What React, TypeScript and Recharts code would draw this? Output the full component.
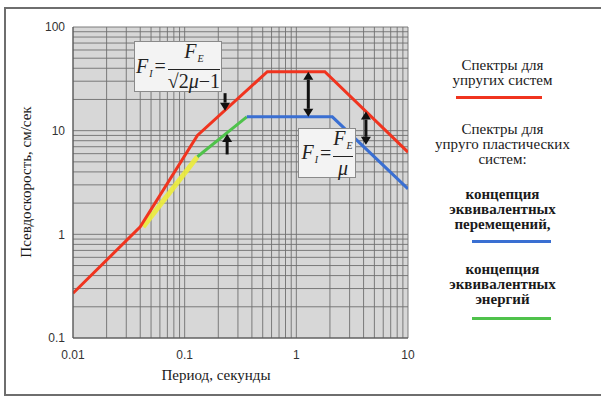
import { LineChart, Line, XAxis, YAxis, CartesianGrid, ReferenceLine, Legend } from 'recharts';

// спектр для упругих систем
const elasticSpectrum = [
  { period: 0.01, velocity: 0.27 },
  { period: 0.04, velocity: 1.18 },
  { period: 0.13, velocity: 9 },
  { period: 0.55, velocity: 37 },
  { period: 1.8, velocity: 37 },
  { period: 10, velocity: 6.2 },
];

// концепция эквивалентных перемещений
const displacementSpectrum = [
  { period: 0.36, velocity: 13.6 },
  { period: 2.1, velocity: 13.6 },
  { period: 10, velocity: 2.75 },
];

// концепция эквивалентных энергий
const energySpectrum = [
  { period: 0.13, velocity: 5.6 },
  { period: 0.36, velocity: 13.6 },
];

const transitionSegment = [
  { period: 0.0425, velocity: 1.18 },
  { period: 0.13, velocity: 5.6 },
];

const arrows = [
  { period: 0.23, from: 23, to: 15.6, both: false },
  { period: 0.24, from: 5.9, to: 9.3, both: false },
  { period: 1.28, from: 37, to: 13.6, both: true },
  { period: 4.2, from: 15.3, to: 7.3, both: true },
];

const periodTicks = [
  0.01, 0.02, 0.03, 0.04, 0.05, 0.06, 0.07, 0.08, 0.09,
  0.1, 0.2, 0.3, 0.4, 0.5, 0.6, 0.7, 0.8, 0.9,
  1, 2, 3, 4, 5, 6, 7, 8, 9, 10,
];
const velocityTicks = [
  0.1, 0.2, 0.3, 0.4, 0.5, 0.6, 0.7, 0.8, 0.9,
  1, 2, 3, 4, 5, 6, 7, 8, 9,
  10, 20, 30, 40, 50, 60, 70, 80, 90, 100,
];
const periodLabels = [0.01, 0.1, 1, 10];
const velocityLabels = [0.1, 1, 10, 100];

const xTitle = 'Период, секунды';
const yTitle = 'Псевдоскорость, см/сек';

const RED = '#f0341f';
const BLUE = '#3a6fd2';
const GREEN = '#4fc24b';
const YELLOW = '#ecec3a';

const serif = '"Liberation Serif", "Times New Roman", serif';
const sans = '"Liberation Sans", Arial, sans-serif';

const arrowShape = (both: boolean) => (p: any) => {
  const { x1, y1, x2, y2 } = p;
  const dir = Math.sign(y2 - y1) || 1;
  const L = 8;
  const W = 5;
  const startY = both ? y1 + dir * L : y1;
  return (
    <g>
      <line x1={x1} y1={startY} x2={x2} y2={y2 - dir * L} stroke="#111" strokeWidth={3} />
      <polygon points={`${x2},${y2} ${x2 - W},${y2 - dir * L} ${x2 + W},${y2 - dir * L}`} fill="#111" />
      {both && (
        <polygon points={`${x1},${y1} ${x1 - W},${y1 + dir * L} ${x1 + W},${y1 + dir * L}`} fill="#111" />
      )}
    </g>
  );
};

const Sub = ({ children }: { children: string }) => (
  <span style={{ fontSize: 10, verticalAlign: -4, marginLeft: 1 }}>{children}</span>
);

const Formula = ({ denom, sqrt }: { denom: string; sqrt?: boolean }) => (
  <div style={{ display: 'flex', alignItems: 'center', fontFamily: serif, fontStyle: 'italic', fontSize: 20, color: '#222' }}>
    <span>F<Sub>I</Sub></span>
    <span style={{ fontStyle: 'normal', margin: '0 2px' }}>=</span>
    <div style={{ display: 'flex', flexDirection: 'column', alignItems: 'center' }}>
      <span style={{ lineHeight: '20px' }}>F<Sub>E</Sub></span>
      <div style={{ alignSelf: 'stretch', borderTop: '1.5px solid #222' }} />
      {sqrt ? (
        <span style={{ lineHeight: '22px', fontStyle: 'normal' }}>
          √<span style={{ borderTop: '1.5px solid #222' }}>2<i>μ</i>−1</span>
        </span>
      ) : (
        <span style={{ lineHeight: '22px' }}>μ</span>
      )}
    </div>
  </div>
);

const legendBlock = (lines: string[], top: number, bold: boolean) => (
  <div style={{ position: 'absolute', top, left: 0, width: 145, textAlign: 'center', fontFamily: serif, fontSize: 15, lineHeight: '15px', fontWeight: bold ? 'bold' : 'normal', color: '#1a1a1a' }}>
    {lines.map((t) => (
      <div key={t}>{t}</div>
    ))}
  </div>
);

const legendSwatch = (color: string, top: number, left: number, width: number) => (
  <div style={{ position: 'absolute', top, left, width, height: 3, background: color }} />
);

const LegendContent = () => (
  <div style={{ position: 'relative', width: 145, height: 340 }}>
    {legendBlock(['Спектры для', 'упругих систем'], 58, false)}
    {legendSwatch(RED, 96, 26, 86)}
    {legendBlock(['Спектры для', 'упруго пластических', 'систем:'], 122, false)}
    {legendBlock(['концепция', 'эквивалентных', 'перемещений,'], 187, true)}
    {legendSwatch(BLUE, 240, 42, 79)}
    {legendBlock(['концепция', 'эквивалентных', 'энергий'], 262, true)}
    {legendSwatch(GREEN, 317, 42, 79)}
  </div>
);

export default function App() {
  return (
    <div style={{ position: 'relative', width: 601, height: 399, background: '#fff', overflow: 'hidden' }}>
      <style>{`body{margin:0}`}</style>
      <div style={{ position: 'absolute', left: 4, top: 7, width: 597, height: 389, boxSizing: 'border-box', border: '2px solid #6e6e6e', borderRight: 'none' }} />
      <LineChart width={601} height={399} margin={{ top: 27, right: 193, bottom: 31, left: 13 }}>
        <CartesianGrid fill="#d7d7d7" stroke="#707070" strokeOpacity={0.9} />
        <XAxis
          dataKey="period"
          type="number"
          scale="log"
          domain={[0.01, 10]}
          ticks={periodTicks}
          interval={0}
          allowDataOverflow
          tickLine={false}
          tickMargin={6}
          stroke="#555"
          tick={{ fill: '#333', fontSize: 12, fontFamily: sans }}
          tickFormatter={(v: number) => (periodLabels.includes(v) ? String(v) : '')}
          label={{
            content: () => (
              <text x={216} y={380} textAnchor="middle" fontFamily={serif} fontSize={15} fill="#1a1a1a">
                {xTitle}
              </text>
            ),
          }}
        />
        <YAxis
          dataKey="velocity"
          type="number"
          scale="log"
          domain={[0.1, 100]}
          ticks={velocityTicks}
          interval={0}
          allowDataOverflow
          width={60}
          tickLine={false}
          stroke="#555"
          tick={{ fill: '#333', fontSize: 12, fontFamily: sans }}
          tickFormatter={(v: number) => (velocityLabels.includes(v) ? String(v) : '')}
          label={{
            content: () => (
              <text x={28} y={182} transform="rotate(-90 28 182)" textAnchor="middle" dominantBaseline="middle" fontFamily={serif} fontSize={15} fill="#1a1a1a">
                {yTitle}
              </text>
            ),
          }}
        />
        <Legend
          layout="vertical"
          align="center"
          verticalAlign="middle"
          wrapperStyle={{ left: 430, top: 0, width: 145, height: 340 }}
          content={() => <LegendContent />}
        />
        <Line data={transitionSegment} dataKey="velocity" stroke={YELLOW} strokeWidth={5} strokeOpacity={0.9} dot={false} isAnimationActive={false} legendType="none" />
        <Line data={energySpectrum} dataKey="velocity" stroke={GREEN} strokeWidth={3} dot={false} isAnimationActive={false} legendType="none" />
        <Line data={displacementSpectrum} dataKey="velocity" stroke={BLUE} strokeWidth={3} dot={false} isAnimationActive={false} legendType="none" />
        <Line data={elasticSpectrum} dataKey="velocity" stroke={RED} strokeWidth={3} dot={false} isAnimationActive={false} legendType="none" />
        {arrows.map((a, i) => (
          <ReferenceLine
            key={i}
            segment={[{ x: a.period, y: a.from }, { x: a.period, y: a.to }]}
            shape={arrowShape(a.both)}
          />
        ))}
      </LineChart>
      <div style={{ position: 'absolute', left: 134, top: 41, width: 88, height: 51, boxSizing: 'border-box', background: '#f3f3f3', border: '1px solid #8a8a8a', display: 'flex', alignItems: 'center', justifyContent: 'center' }}>
        <Formula denom="sqrt" sqrt />
      </div>
      <div style={{ position: 'absolute', left: 298, top: 128, width: 58, height: 50, boxSizing: 'border-box', background: '#f3f3f3', border: '1px solid #8a8a8a', display: 'flex', alignItems: 'center', justifyContent: 'center' }}>
        <Formula denom="mu" />
      </div>
    </div>
  );
}
